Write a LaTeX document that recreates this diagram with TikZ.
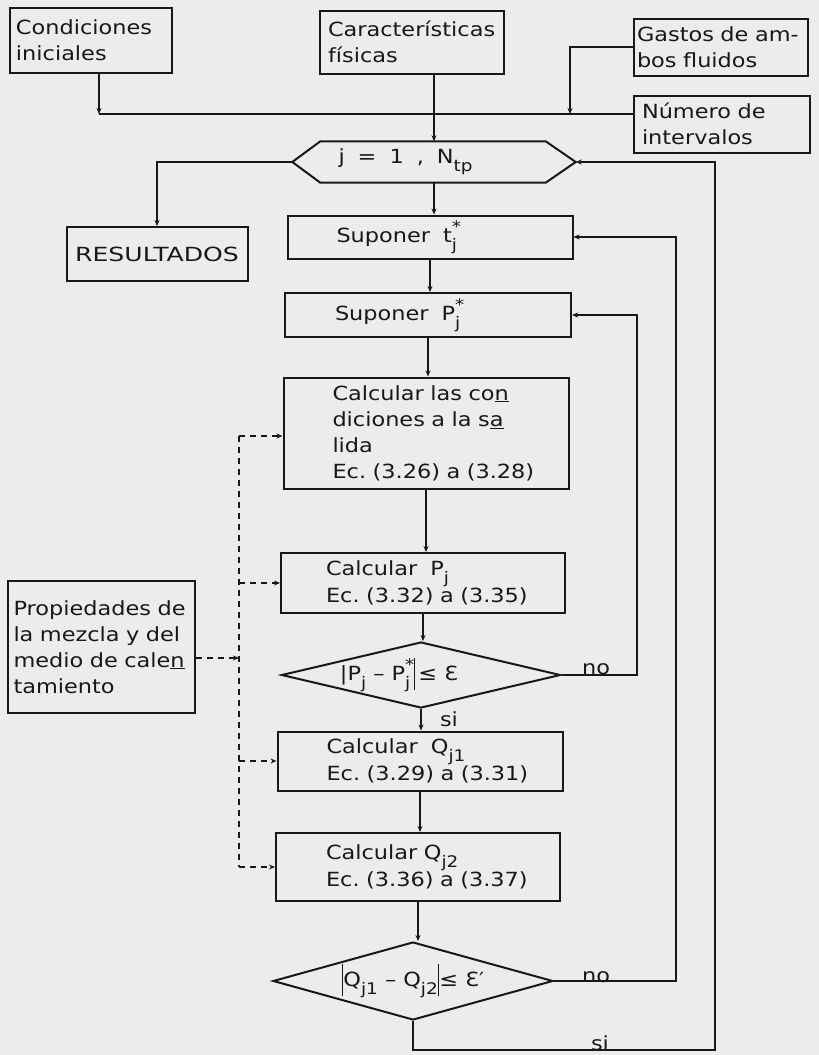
\documentclass[tikz,border=0pt]{standalone}
\usepackage{fontspec}
\usepackage{graphicx}
\setmainfont{DejaVu Sans}[FakeStretch=1.15]
\usetikzlibrary{arrows.meta,shapes.geometric}
\definecolor{paper}{RGB}{236,236,236}
\definecolor{ink}{RGB}{24,24,24}
\newcommand\sbx[1]{\raisebox{-0.42em}{\fontsize{16}{16}\selectfont #1}}
\newcommand\spx[1]{\raisebox{0.5em}{\fontsize{16}{16}\selectfont #1}}
\newcommand\ssx[2]{\rlap{\spx{#1}}\sbx{#2}}
\newcommand\tallbar{\rule[-10pt]{1.6pt}{32pt}}
\begin{document}
\begin{tikzpicture}[x=1pt,y=-1pt,
  every node/.style={text=ink, font=\fontsize{19.5}{26}\selectfont},
  box/.style={draw=ink, line width=2pt, rectangle, align=left, inner ysep=0pt},
  wire/.style={draw=ink, line width=2pt},
  arr/.style={draw=ink, line width=2pt, -{Stealth[length=6pt,width=5pt]}},
  dsh/.style={draw=ink, line width=1.6pt, dash pattern=on 6pt off 5pt},
  dia/.style={draw=ink, line width=2pt, diamond, inner sep=0pt, aspect=4.2},
  lbl/.style={inner sep=1pt}]
\fill[paper] (0,0) rectangle (819,1055);
\useasboundingbox (0,0) rectangle (819,1055);

% input boxes
\node[box, text width=150pt, inner xsep=6pt, minimum height=65pt] (cond) at (91,40) {Condiciones\\iniciales};
\node[box, text width=168pt, inner xsep=8pt, minimum height=63pt] (caract) at (412,42) {Características\\físicas};
\node[box, text width=168pt, inner xsep=3pt, minimum height=57pt] (gastos) at (721,47) {Gastos~de~am-\\bos~fluidos};
\node[box, text width=160pt, inner xsep=8pt, minimum height=57pt] (numero) at (722,124) {Número~de\\intervalos};

% loop hexagon
\node[align=left, text width=191pt, inner xsep=46pt, inner ysep=0pt, minimum height=41pt] (hex) at (434,162) {j\ \ =\ \ 1\ \ ,\ \ N\sbx{tp}};
\draw[wire] (hex.west) -- ([xshift=28pt]hex.north west) -- ([xshift=-30pt]hex.north east) -- (hex.east) -- ([xshift=-30pt]hex.south east) -- ([xshift=28pt]hex.south west) -- cycle;

\node[box, align=center, minimum width=181pt, minimum height=54pt] (res) at (157,254) {\scalebox{1.12}[1]{RESULTADOS}};

% main column
\node[box, text width=187pt, inner xsep=49pt, minimum height=43pt] (supt) at (430,237) {Suponer~~t\ssx{*}{j}};
\node[box, text width=186pt, inner xsep=50pt, minimum height=44pt] (supP) at (428,315) {Suponer~~P\ssx{*}{j}};
\node[box, text width=187pt, inner xsep=49pt, minimum height=111pt] (cond2) at (426,433) {Calcular~las~co\underline{n}\\diciones~a~la~s\underline{a}\\lida\\Ec.~(3.26)~a~(3.28)};
\node[box, text width=194pt, inner xsep=45pt, minimum height=60pt] (calcP) at (423,583) {Calcular~~P\sbx{j}\\Ec.~(3.32)~a~(3.35)};
\node[dia, minimum width=279pt, minimum height=66pt] (d1) at (421,675) {\makebox[0pt]{|P\sbx{j}~–~P\ssx{*}{j}\,\tallbar\,≤~Ɛ\hspace{44pt}}};
\node[box, text width=187pt, inner xsep=49pt, minimum height=59pt] (q1) at (420,761) {Calcular~~Q\sbx{j1}\\Ec.~(3.29)~a~(3.31)};
\node[box, text width=184pt, inner xsep=50pt, minimum height=68pt] (q2) at (418,867) {Calcular~Q\sbx{j2}\\Ec.~(3.36)~a~(3.37)};
\node[dia, minimum width=280pt, minimum height=78pt] (d2) at (413,981) {\makebox[0pt]{\tallbar Q\sbx{j1}~–~Q\sbx{j2}\tallbar≤~Ɛ′}};

\node[box, text width=175pt, inner xsep=6pt, minimum height=132pt] (prop) at (101,647) {Propiedades~de\\la~mezcla~y~del\\medio~de~cale\underline{n}\\tamiento};

% labels
\node[lbl, anchor=south] (no1) at (596,676) {no};
\node[lbl] (si1) at (449,719) {si};
\node[lbl, anchor=south] (no2) at (596,984) {no};
\node[lbl, anchor=south] (si2) at (600,1052) {si};

% helper coordinates
\coordinate (bus) at (0,114);
\coordinate (cj) at (99,114);
\coordinate (gj) at (570,114);
\coordinate (lpA) at (637,0);
\coordinate (lpB) at (676,0);
\coordinate (lpC) at (715,1050);
\coordinate (dtop) at (239,436);

% input connectors
\draw[wire] (cj) -- (numero.west |- bus);
\draw[arr] (cj |- cond.south) -- (cj);
\draw[arr] (gastos.west) -| (gj);
\draw[arr] (hex.north |- caract.south) -- (hex.north);
\draw[arr] (hex.west) -| (res.north);

% main flow
\draw[arr] (hex.south) -- (hex.south |- supt.north);
\draw[arr] (supt.south) -- (supt.south |- supP.north);
\draw[arr] (supP.south) -- (supP.south |- cond2.north);
\draw[arr] (cond2.south) -- (cond2.south |- calcP.north);
\draw[arr] (calcP.south) -- (calcP.south |- d1.north);
\draw[arr] (d1.south) -- (d1.south |- q1.north);
\draw[arr] (q1.south) -- (q1.south |- q2.north);
\draw[arr] (q2.south) -- (q2.south |- d2.north);

% loops
\draw[arr] (d1.east) -| (lpA |- supP.east) -- (supP.east);
\draw[arr] (d2.east) -| (lpB |- supt.east) -- (supt.east);
\draw[arr] (d2.south) |- (lpC) |- (hex.east);

% dashed property feed
\draw[dsh] (dtop) -- (q2.west -| dtop);
\draw[dsh, arr] (dtop) -- (dtop -| cond2.west);
\draw[dsh, arr] (calcP.west -| dtop) -- (calcP.west);
\draw[dsh, arr] (q1.west -| dtop) -- (q1.west);
\draw[dsh, arr] (q2.west -| dtop) -- (q2.west);
\draw[dsh, arr] ([yshift=-11pt]prop.east) -- ([yshift=-11pt]prop.east -| dtop);
\end{tikzpicture}
\end{document}
